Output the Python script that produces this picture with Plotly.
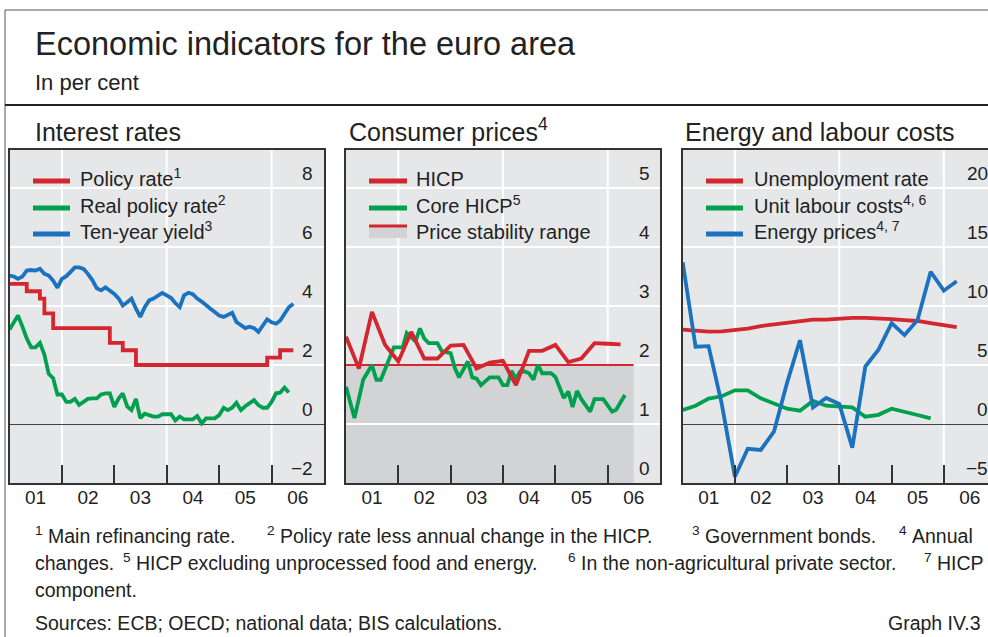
import plotly.graph_objects as go
import pandas as pd

W, H = 988, 637

# ---------------- data ----------------
START = "2001-01-01"

# Interest rates (monthly, from Jan 2001)
policy_rate = [4.75, 4.75, 4.75, 4.75, 4.5, 4.5, 4.5, 4.25, 3.75, 3.75, 3.25, 3.25,
               3.25, 3.25, 3.25, 3.25, 3.25, 3.25, 3.25, 3.25, 3.25, 3.25, 3.25, 2.75,
               2.75, 2.75, 2.5, 2.5, 2.5, 2.0, 2.0, 2.0, 2.0, 2.0, 2.0, 2.0,
               2.0, 2.0, 2.0, 2.0, 2.0, 2.0, 2.0, 2.0, 2.0, 2.0, 2.0, 2.0,
               2.0, 2.0, 2.0, 2.0, 2.0, 2.0, 2.0, 2.0, 2.0, 2.0, 2.0, 2.25,
               2.25, 2.25, 2.5, 2.5, 2.5, 2.5]
real_policy_rate = [3.2, 3.45, 3.68, 3.3, 2.9, 2.6, 2.6, 2.75, 2.35, 1.7, 1.55, 1.0,
                    1.0, 0.75, 0.75, 0.85, 0.65, 0.75, 0.85, 0.87, 0.87, 1.0, 1.04, 1.04,
                    0.58, 0.87, 1.04, 0.6, 0.47, 0.85, 0.2, 0.35, 0.3, 0.25, 0.25, 0.33,
                    0.33, 0.33, 0.12, 0.25, 0.16, 0.16, 0.16, 0.27, 0.02, 0.19, 0.19, 0.19,
                    0.3, 0.55, 0.47, 0.55, 0.72, 0.47, 0.6, 0.72, 0.81, 0.64, 0.55, 0.55,
                    0.75, 1.04, 1.06, 1.23, 1.07]
ten_year_yield = [5.03, 5.0, 4.92, 5.0, 5.2, 5.22, 5.2, 5.26, 5.09, 5.03, 4.86, 4.62,
                  4.92, 5.01, 5.15, 5.31, 5.31, 5.26, 5.09, 4.88, 4.6, 4.53, 4.63, 4.52,
                  4.41, 4.25, 4.02, 4.13, 4.25, 3.91, 3.63, 3.96, 4.19, 4.25, 4.36, 4.44,
                  4.36, 4.27, 4.1, 3.96, 4.36, 4.45, 4.4, 4.25, 4.15, 4.05, 3.91, 3.8,
                  3.68, 3.63, 3.7, 3.77, 3.46, 3.35, 3.25, 3.3, 3.25, 3.12, 3.35, 3.55,
                  3.45, 3.4, 3.5, 3.72, 3.96, 4.08]

# Consumer prices (month offsets from Jan 2001)
hicp_months = [0, 3, 6, 9, 12, 15, 18, 21, 24, 27, 30, 33, 36, 39, 42, 45, 48, 51, 54, 57, 60, 63]
hicp = [2.48, 1.94, 2.9, 2.34, 2.06, 2.56, 2.11, 2.11, 2.33, 2.34, 1.94, 2.04,
        2.07, 1.66, 2.24, 2.24, 2.34, 2.05, 2.11, 2.37, 2.36, 2.35]
core_months = [0, 2, 4, 6, 7, 8, 11, 13, 14, 16, 17, 18, 19, 21, 22, 24, 25, 26, 28, 29,
               30, 31, 33, 35, 36, 37, 38, 39, 40, 41, 42, 43, 44, 45, 47, 48, 50, 51, 52,
               53, 54, 56, 57, 59, 61, 62, 64]
core_hicp = [1.63, 1.1, 1.75, 2.0, 1.75, 1.75, 2.3, 2.3, 2.54, 2.4, 2.62, 2.45, 2.37, 2.37,
             2.23, 2.2, 1.94, 1.79, 2.06, 1.79, 1.77, 1.66, 1.79, 1.79, 1.66, 1.66, 1.9,
             1.77, 1.89, 1.89, 1.86, 1.75, 2.0, 1.86, 1.86, 1.8, 1.44, 1.55, 1.29, 1.56,
             1.42, 1.21, 1.42, 1.42, 1.21, 1.24, 1.49]
price_stability_level = 2.0
price_stability_end = "2006-07-01"

# Energy and labour costs (quarterly, month offsets from Jan 2001)
el_months = [0, 3, 6, 9, 12, 15, 18, 21, 24, 27, 30, 33, 36, 39, 42, 45, 48, 51, 54, 57, 60, 63]
unemployment_rate = [8.0, 7.88, 7.82, 7.85, 7.95, 8.08, 8.3, 8.45, 8.6, 8.78, 8.85, 8.85,
                     8.95, 9.0, 9.0, 8.96, 8.88, 8.8, 8.73, 8.55, 8.4, 8.2]
energy_prices = [13.7, 6.55, 6.6, 1.7, -4.46, -2.1, -2.2, -0.65, 3.5, 7.1, 1.4, 2.2,
                 1.7, -2.0, 4.86, 6.3, 8.55, 7.54, 8.8, 12.9, 11.3, 12.1]
ulc_months = [0, 3, 6, 9, 12, 15, 18, 21, 24, 27, 30, 33, 36, 39, 42, 45, 48, 51, 54, 57]
unit_labour_costs = [1.19, 1.55, 2.15, 2.35, 2.85, 2.85, 2.18, 1.75, 1.3, 1.13, 1.95, 1.55,
                     1.47, 1.41, 0.62, 0.78, 1.3, 1.0, 0.76, 0.48]

year_labels = ["01", "02", "03", "04", "05", "06"]
year_label_dates = ["2001-07-02", "2002-07-02", "2003-07-02", "2004-07-02", "2005-07-02", "2006-07-02"]
year_bounds = ["2002-01-01", "2003-01-01", "2004-01-01", "2005-01-01", "2006-01-01"]
grid_years = ["2002-01-01", "2004-01-01", "2006-01-01"]

p1_yticks = [-2, 0, 2, 4, 6, 8]
p2_yticks = [0, 1, 2, 3, 4, 5]
p3_yticks = [-5, 0, 5, 10, 15, 20]


def mdates(months):
    base = pd.Timestamp(START)
    return [base + pd.DateOffset(months=int(m)) for m in months]


monthly = pd.date_range(START, periods=len(policy_rate), freq="MS")

# ---------------- style ----------------
RED = "#d3262f"
GREEN = "#00a04e"
BLUE = "#1b72be"
BG = "#e6e7e9"
SHADE = "#d2d3d5"
TXT = "#222222"
FONT = "Liberation Sans, Arial, sans-serif"
LW = 3.8

PT, PB = 150, 483
panels_px = [(9.5, 324.0), (346.0, 660.0), (682.7, 988.0)]


def px(x):
    return x / W


def py(y):
    return 1 - y / H


fig = go.Figure()

# traces
fig.add_trace(go.Scatter(x=monthly, y=policy_rate, mode="lines", line=dict(color=RED, width=LW, shape="hv"),
                         xaxis="x", yaxis="y", showlegend=False, hoverinfo="skip"))
fig.add_trace(go.Scatter(x=monthly[:len(real_policy_rate)], y=real_policy_rate, mode="lines",
                         line=dict(color=GREEN, width=LW), xaxis="x", yaxis="y", showlegend=False))
fig.add_trace(go.Scatter(x=monthly, y=ten_year_yield, mode="lines", line=dict(color=BLUE, width=LW),
                         xaxis="x", yaxis="y", showlegend=False))

fig.add_trace(go.Scatter(x=[pd.Timestamp(START), pd.Timestamp(price_stability_end)],
                         y=[price_stability_level, price_stability_level], mode="lines",
                         line=dict(color=RED, width=2.2), xaxis="x2", yaxis="y2", showlegend=False))
fig.add_trace(go.Scatter(x=mdates(core_months), y=core_hicp, mode="lines", line=dict(color=GREEN, width=LW),
                         xaxis="x2", yaxis="y2", showlegend=False))
fig.add_trace(go.Scatter(x=mdates(hicp_months), y=hicp, mode="lines", line=dict(color=RED, width=LW),
                         xaxis="x2", yaxis="y2", showlegend=False))

fig.add_trace(go.Scatter(x=mdates(el_months), y=unemployment_rate, mode="lines", line=dict(color=RED, width=LW),
                         xaxis="x3", yaxis="y3", showlegend=False))
fig.add_trace(go.Scatter(x=mdates(ulc_months), y=unit_labour_costs, mode="lines", line=dict(color=GREEN, width=LW),
                         xaxis="x3", yaxis="y3", showlegend=False))
fig.add_trace(go.Scatter(x=mdates(el_months), y=energy_prices, mode="lines", line=dict(color=BLUE, width=LW),
                         xaxis="x3", yaxis="y3", showlegend=False))

# axes
yranges = [[-2, 9.288], [0, 5.644], [-5, 23.22]]
xranges = [["2001-01-01", "2007-01-01"], ["2001-01-01", "2007-01-01"], ["2001-01-01", "2006-11-06"]]
yticks_all = [p1_yticks, p2_yticks, p3_yticks]
layout_axes = {}
for i, ((l, r), yr, xr, yt) in enumerate(zip(panels_px, yranges, xranges, yticks_all)):
    sfx = "" if i == 0 else str(i + 1)
    layout_axes["xaxis" + sfx] = dict(
        domain=[px(l), px(r)], range=xr, type="date", anchor="y" + sfx,
        tickmode="array", tickvals=year_label_dates, ticktext=year_labels, ticks="", ticklen=0,
        ticklabelstandoff=-4,
        showgrid=False, zeroline=False, showline=True, linecolor="#333", linewidth=1.5, mirror=True,
        tickfont=dict(family=FONT, size=19, color=TXT),
        minor=dict(tickmode="array", tickvals=year_bounds, ticks="inside", ticklen=18,
                   tickwidth=1.5, tickcolor="#333", showgrid=False),
        fixedrange=True,
    )
    layout_axes["yaxis" + sfx] = dict(
        domain=[py(PB), py(PT)], range=yr, anchor="x" + sfx,
        tickmode="array", tickvals=yt, showticklabels=False, ticks="",
        showgrid=True, gridcolor="white", gridwidth=2,
        zeroline=True, zerolinecolor="#444", zerolinewidth=1.3,
        showline=True, linecolor="#333", linewidth=1.5, mirror=(i < 2),
        fixedrange=True,
    )

shapes = []
# price stability shading
shapes.append(dict(type="rect", xref="x2", yref="y2", x0=START, x1=price_stability_end,
                   y0=0, y1=price_stability_level, fillcolor=SHADE, line=dict(width=0), layer="below"))
# vertical gridlines every two years
for i in range(3):
    sfx = "" if i == 0 else str(i + 1)
    for g in grid_years:
        shapes.append(dict(type="line", xref="x" + sfx, yref="y" + sfx + " domain", x0=g, x1=g, y0=0, y1=1,
                           line=dict(color="white", width=2), layer="below"))

# outer frame
shapes.append(dict(type="line", xref="paper", yref="paper", x0=px(5), x1=1.0, y0=py(10), y1=py(10),
                   line=dict(color="#555", width=1)))
shapes.append(dict(type="line", xref="paper", yref="paper", x0=px(5), x1=px(5), y0=py(10), y1=0,
                   line=dict(color="#555", width=1)))
shapes.append(dict(type="line", xref="paper", yref="paper", x0=px(5), x1=1.0, y0=py(105), y1=py(105),
                   line=dict(color="#222", width=2)))

annotations = []


def text(x, y, s, size, anchor="left", color=TXT, yanchor="middle"):
    annotations.append(dict(xref="paper", yref="paper", x=px(x), y=py(y), text=s, showarrow=False,
                            xanchor=anchor, yanchor=yanchor,
                            font=dict(family=FONT, size=size, color=color)))


def btext(x, yc, s, size, anchor="left"):
    # bottom-anchored so that superscripts do not shift the baseline; yc = centre of plain text
    text(x, yc + 0.675 * size, s, size, anchor=anchor, yanchor="bottom")


text(33, 44, "Economic indicators for the euro area", 32.5)
text(33, 83, "In per cent", 22)
btext(33, 131, "Interest rates", 25)
btext(347, 131, "Consumer prices<sup>4</sup>", 25)
btext(683, 131, "Energy and labour costs", 25)

# legends
leg_rows = [181, 208, 234]
legends = [
    (33, 70, 78, [(RED, "Policy rate<sup>1</sup>"), (GREEN, "Real policy rate<sup>2</sup>"),
                  (BLUE, "Ten-year yield<sup>3</sup>")]),
    (369, 407, 414, [(RED, "HICP"), (GREEN, "Core HICP<sup>5</sup>"), (None, "Price stability range")]),
    (706, 743, 752, [(RED, "Unemployment rate"), (GREEN, "Unit labour costs<sup>4, 6</sup>"),
                     (BLUE, "Energy prices<sup>4, 7</sup>")]),
]
for x0, x1, xt, items in legends:
    for yrow, (col, lab) in zip(leg_rows, items):
        if col is None:
            shapes.append(dict(type="rect", xref="paper", yref="paper", x0=px(x0), x1=px(x1),
                               y0=py(238), y1=py(227), fillcolor=SHADE, line=dict(width=0)))
            shapes.append(dict(type="line", xref="paper", yref="paper", x0=px(x0), x1=px(x1),
                               y0=py(226), y1=py(226), line=dict(color=RED, width=3)))
        else:
            shapes.append(dict(type="line", xref="paper", yref="paper", x0=px(x0), x1=px(x1),
                               y0=py(yrow), y1=py(yrow), line=dict(color=col, width=5)))
        btext(xt, yrow - 2.5, lab, 20)

# y tick labels (placed above gridlines, inside the plot at the right)
label_right = [315, 652, 990]
for i, (yt, xr) in enumerate(zip(yticks_all, label_right)):
    sfx = "" if i == 0 else str(i + 1)
    for v in yt:
        lab = ("\u2212" + str(abs(v))) if v < 0 else str(v)
        annotations.append(dict(xref="paper", yref="y" + sfx, x=px(xr), y=v, text=lab, showarrow=False,
                                xanchor="right", yanchor="middle", yshift=15,
                                font=dict(family=FONT, size=19, color=TXT)))

# footnotes (segments placed like the justified original)
FN = 19.5
footnotes = [
    (536, [(33, "<sup>1</sup>\u00a0Main refinancing rate."),
           (265, "<sup>2</sup>\u00a0Policy rate less annual change in the HICP."),
           (690, "<sup>3</sup>\u00a0Government bonds."),
           (897, "<sup>4</sup>\u00a0Annual")]),
    (563, [(33, "changes."),
           (121, "<sup>5</sup>\u00a0HICP excluding unprocessed food and energy."),
           (566, "<sup>6</sup>\u00a0In the non-agricultural private sector."),
           (922, "<sup>7</sup>\u00a0HICP")]),
    (590, [(33, "component.")]),
]
for yrow, segs in footnotes:
    for xs, s in segs:
        btext(xs, yrow, s, FN)
btext(33, 623, "Sources: ECB; OECD; national data; BIS calculations.", FN)
btext(983, 623, "Graph IV.3", FN, anchor="right")

fig.update_layout(
    width=W, height=H, margin=dict(l=0, r=0, t=0, b=0),
    paper_bgcolor="white", plot_bgcolor=BG, showlegend=False,
    shapes=shapes, annotations=annotations, **layout_axes,
)

fig.write_html("out.html", config={"displayModeBar": False},
               post_script="document.body.style.margin='0px';document.body.style.overflow='hidden';")
